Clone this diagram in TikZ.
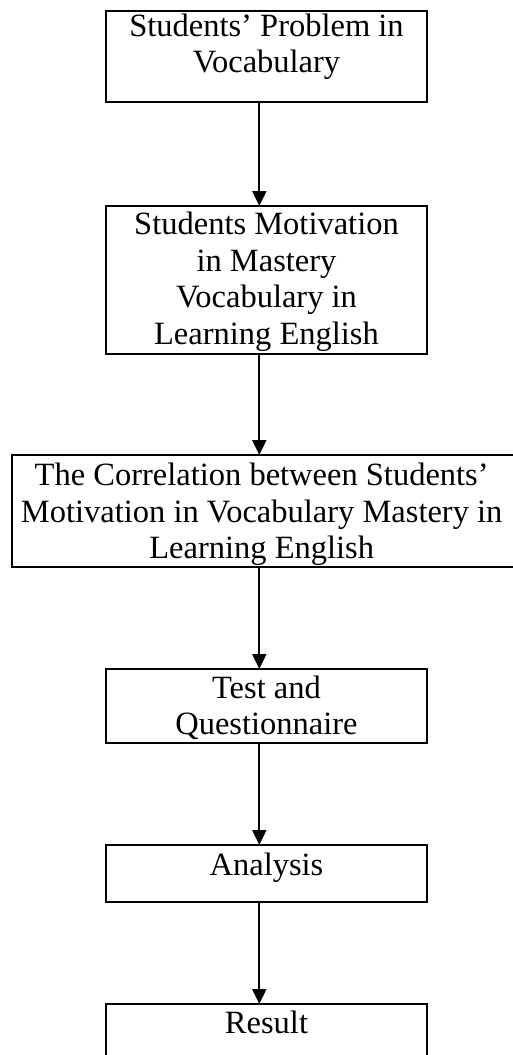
\documentclass[tikz,border=0pt]{standalone}
\usepackage{fontspec}
\setmainfont{Liberation Serif}
\usetikzlibrary{arrows.meta}
\begin{document}
\begin{tikzpicture}[x=1pt,y=-1pt,
  box/.style={draw,line width=2pt,rectangle,inner sep=0pt,outer sep=0pt,anchor=north west},
  txt/.style={anchor=base,inner sep=0pt,font=\fontsize{32.5}{36.7}\selectfont},
  arr/.style={line width=2pt,-{Triangle[width=14pt,length=15pt]}}]
\useasboundingbox (0,0) rectangle (513,1055);
\coordinate (ax) at (259.3,0);
% boxes
\node[box,minimum width=321pt,minimum height=91pt]    (b1) at (106,11)  {};
\node[box,minimum width=321pt,minimum height=147.5pt] (b2) at (106,206) {};
\node[box,minimum width=510pt,minimum height=112pt]   (b3) at (11.7,455) {};
\node[box,minimum width=321pt,minimum height=74pt]    (b4) at (106,669) {};
\node[box,minimum width=321pt,minimum height=57pt]    (b5) at (106,845) {};
\node[box,minimum width=321pt,minimum height=70pt]    (b6) at (106,1004) {};
% texts
\node[txt] (t1) at ([yshift=-25pt]b1.north) {\begin{tabular}[t]{@{}c@{}}Students’ Problem in\\Vocabulary\end{tabular}};
\node[txt] (t2) at ([yshift=-28.5pt]b2.north) {\begin{tabular}[t]{@{}c@{}}Students Motivation\\in Mastery\\Vocabulary in\\Learning English\end{tabular}};
\node[txt] (t3) at ([xshift=-5pt,yshift=-30.5pt]b3.north) {\begin{tabular}[t]{@{}c@{}}The Correlation between Students’\\Motivation in Vocabulary Mastery in\\Learning English\end{tabular}};
\node[txt] (t4) at ([yshift=-29pt]b4.north) {\begin{tabular}[t]{@{}c@{}}Test and\\Questionnaire\end{tabular}};
\node[txt] (t5) at ([yshift=-30pt]b5.north) {Analysis};
\node[txt] (t6) at ([yshift=-29pt]b6.north) {Result};
% arrows
\draw[arr] (b1.south -| ax) -- (b2.north -| ax);
\draw[arr] (b2.south -| ax) -- (b3.north -| ax);
\draw[arr] (b3.south -| ax) -- (b4.north -| ax);
\draw[arr] (b4.south -| ax) -- (b5.north -| ax);
\draw[arr] (b5.south -| ax) -- (b6.north -| ax);
\end{tikzpicture}
\end{document}
